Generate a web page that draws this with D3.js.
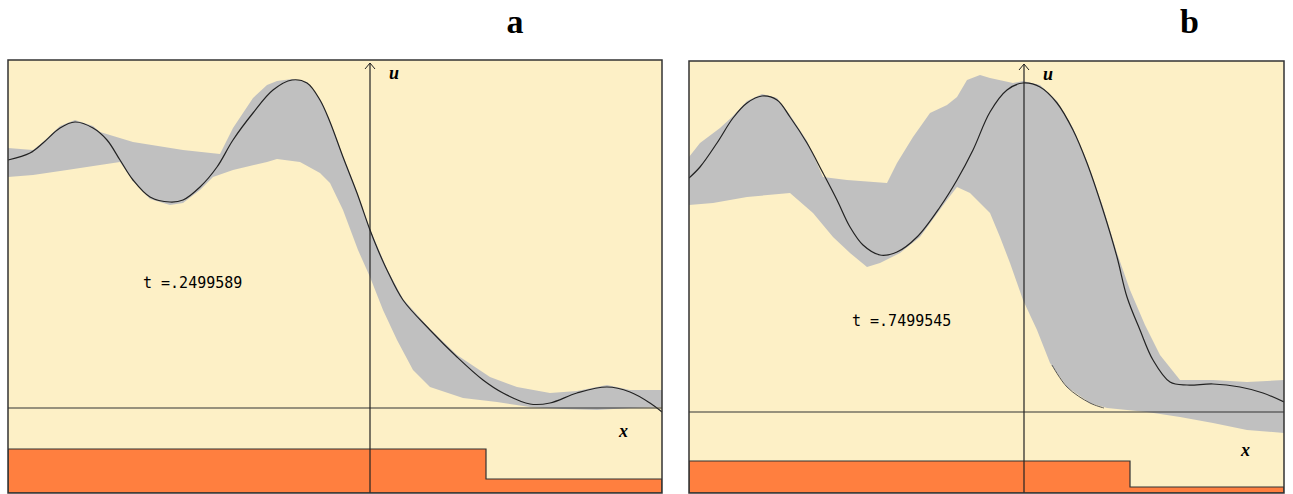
<!DOCTYPE html>
<html lang="en">
<head>
    <meta charset="UTF-8">
    <title>u(x, t)</title>
    <script src="https://d3js.org/d3.v7.min.js"></script>
    <style>
        body { margin: 0; background: #fff; }
    </style>
</head>
<body>

    <script>

        // panel a, t = .2499589  ([x, u] pairs)
        var curveA = [[-3.62, 2.48], [-3.40, 2.55], [-3.27, 2.65], [-3.10, 2.80], [-2.95, 2.86], [-2.77, 2.80],
            [-2.63, 2.68], [-2.50, 2.48], [-2.37, 2.28], [-2.20, 2.11], [-2.00, 2.06], [-1.87, 2.08],
            [-1.70, 2.21], [-1.53, 2.41], [-1.37, 2.68], [-1.17, 2.95], [-0.97, 3.18], [-0.78, 3.28],
            [-0.63, 3.25], [-0.50, 3.08], [-0.40, 2.86], [-0.27, 2.51], [-0.13, 2.15], [0, 1.78],
            [0.08, 1.58], [0.17, 1.38], [0.33, 1.08], [0.60, 0.78], [0.87, 0.51], [1.13, 0.28],
            [1.33, 0.15], [1.60, 0.04], [1.80, 0.05], [2.07, 0.15], [2.37, 0.21], [2.60, 0.16],
            [2.80, 0.05], [2.92, -0.04]];
        var upperA = [[-3.62, 2.60], [-3.37, 2.58], [-3.27, 2.66], [-3.10, 2.82], [-2.95, 2.88], [-2.77, 2.82],
            [-2.70, 2.76], [-2.37, 2.66], [-1.87, 2.58], [-1.50, 2.54], [-1.37, 2.80], [-1.17, 3.10],
            [-1.03, 3.23], [-0.93, 3.27], [-0.78, 3.29], [-0.63, 3.26], [-0.50, 3.09], [-0.40, 2.87],
            [-0.27, 2.52], [-0.13, 2.16], [0, 1.79], [0.17, 1.39], [0.33, 1.09], [0.60, 0.79],
            [0.87, 0.53], [1.20, 0.31], [1.47, 0.21], [1.80, 0.15], [2.07, 0.17], [2.37, 0.23],
            [2.60, 0.18], [2.92, 0.18]];
        var lowerA = [[-3.62, 2.31], [-3.37, 2.33], [-3.03, 2.38], [-2.70, 2.43], [-2.50, 2.46], [-2.37, 2.27],
            [-2.20, 2.09], [-2.00, 2.03], [-1.87, 2.05], [-1.70, 2.18], [-1.57, 2.31], [-1.37, 2.38],
            [-1.03, 2.46], [-0.93, 2.49], [-0.70, 2.46], [-0.50, 2.35], [-0.40, 2.25], [-0.27, 1.98],
            [-0.12, 1.58], [0, 1.31], [0.13, 0.98], [0.27, 0.68], [0.43, 0.38], [0.60, 0.21],
            [0.93, 0.10], [1.27, 0.06], [1.60, 0.01], [1.93, -0.01], [2.27, -0.02], [2.60, 0.00],
            [2.92, 0.01]];
        var edgeA = [];
        var bedA = [[-3.62, -0.41], [1.16, -0.71], [2.92, -0.71]];

        // panel b, t = .7499545
        var curveB = [[-3.35, 2.34], [-3.24, 2.45], [-3.07, 2.69], [-2.91, 2.94], [-2.77, 3.09], [-2.62, 3.16],
            [-2.47, 3.12], [-2.34, 2.95], [-2.17, 2.69], [-2.01, 2.39], [-1.87, 2.12], [-1.74, 1.85],
            [-1.61, 1.67], [-1.44, 1.57], [-1.27, 1.60], [-1.07, 1.75], [-0.84, 2.05], [-0.67, 2.32],
            [-0.51, 2.62], [-0.34, 3.00], [-0.17, 3.22], [-0.01, 3.29], [0.16, 3.25], [0.33, 3.09],
            [0.49, 2.82], [0.63, 2.49], [0.79, 2.02], [0.93, 1.55], [1.03, 1.15], [1.16, 0.82],
            [1.29, 0.52], [1.46, 0.30], [1.63, 0.27], [1.89, 0.28], [2.16, 0.25], [2.39, 0.19],
            [2.60, 0.10]];
        var upperB = [[-3.35, 2.55], [-3.24, 2.69], [-3.04, 2.84], [-2.91, 2.96], [-2.77, 3.11], [-2.62, 3.18],
            [-2.47, 3.14], [-2.34, 2.97], [-2.17, 2.71], [-2.01, 2.35], [-1.77, 2.32], [-1.37, 2.29],
            [-1.27, 2.49], [-1.11, 2.75], [-0.94, 2.99], [-0.77, 3.07], [-0.67, 3.15], [-0.57, 3.32],
            [-0.44, 3.37], [-0.34, 3.34], [-0.11, 3.29], [-0.01, 3.31], [0.16, 3.27], [0.33, 3.11],
            [0.49, 2.84], [0.63, 2.51], [0.79, 2.05], [0.93, 1.59], [1.06, 1.22], [1.21, 0.87],
            [1.36, 0.57], [1.56, 0.32], [1.89, 0.32], [2.23, 0.30], [2.60, 0.32]];
        var lowerB = [[-3.35, 2.07], [-3.11, 2.09], [-2.77, 2.15], [-2.34, 2.19], [-2.11, 1.99], [-1.91, 1.75],
            [-1.74, 1.59], [-1.57, 1.45], [-1.44, 1.49], [-1.24, 1.59], [-1.04, 1.75], [-0.77, 2.12],
            [-0.67, 2.25], [-0.54, 2.19], [-0.34, 1.99], [-0.24, 1.75], [-0.14, 1.49], [-0.01, 1.12],
            [0.13, 0.82], [0.26, 0.49], [0.43, 0.25], [0.66, 0.09], [0.83, 0.04], [1.23, 0.00],
            [1.56, -0.05], [1.89, -0.11], [2.23, -0.18], [2.60, -0.21]];
        // darker trace along the lower edge of the envelope
        var edgeB = [[0.28, 0.47], [0.43, 0.25], [0.66, 0.09], [0.80, 0.04]];
        var bedB = [[-3.35, -0.49], [1.06, -0.75], [2.60, -0.75]];

        var panels = [
            { name: "a", label: "t =.2499589", labelAt: [-2.27, 1.20], curve: curveA, upper: upperA, lower: lowerA, edge: edgeA, bed: bedA,
              xDomain: [-3.62, 2.92], xRange: [8, 662], uDomain: [-0.85, 3.48], uRange: [493, 60], xLabelU: -0.29 },
            { name: "b", label: "t =.7499545", labelAt: [-1.72, 0.86], curve: curveB, upper: upperB, lower: lowerB, edge: edgeB, bed: bedB,
              xDomain: [-3.35, 2.60], xRange: [689, 1284], uDomain: [-0.81, 3.51], uRange: [493, 61], xLabelU: -0.44 }
        ];

        var width = 1293;
        var height = 494;

        var svg = d3.select("body")
            .append("svg")
            .attr("width", width)
            .attr("height", height);

        panels.forEach(function (p, i) {
            var x = d3.scaleLinear().domain(p.xDomain).range(p.xRange);
            var u = d3.scaleLinear().domain(p.uDomain).range(p.uRange);
            var x0 = p.xDomain[0], x1 = p.xDomain[1];
            var u0 = p.uDomain[0], u1 = p.uDomain[1];

            var g = svg.append("g");

            g.append("clipPath")
                .attr("id", "clip" + i)
                .append("rect")
                .attr("x", x(x0)).attr("y", u(u1))
                .attr("width", x(x1) - x(x0)).attr("height", u(u0) - u(u1));

            g.append("rect")
                .attr("x", x(x0)).attr("y", u(u1))
                .attr("width", x(x1) - x(x0)).attr("height", u(u0) - u(u1))
                .attr("fill", "#fdf0c6");

            var plot = g.append("g").attr("clip-path", "url(#clip" + i + ")");

            var line = d3.line()
                .x(function (d) { return x(d[0]); })
                .y(function (d) { return u(d[1]); });

            // gray envelope
            var band = p.upper.concat(p.lower.slice().reverse());
            plot.append("path")
                .attr("d", line(band) + "Z")
                .attr("fill", "#c0c0c0");

            if (p.edge.length) {
                plot.append("path")
                    .attr("d", line.curve(d3.curveCatmullRom)(p.edge))
                    .attr("fill", "none")
                    .attr("stroke", "#555")
                    .attr("stroke-width", 1);
            }

            // solution curve
            plot.append("path")
                .attr("d", line.curve(d3.curveCatmullRom)(p.curve))
                .attr("fill", "none")
                .attr("stroke", "#222")
                .attr("stroke-width", 1.2);

            // bottom step
            var bed = d3.area()
                .curve(d3.curveStepAfter)
                .x(function (d) { return x(d[0]); })
                .y0(u(u0))
                .y1(function (d) { return u(d[1]); });
            plot.append("path")
                .attr("d", bed(p.bed))
                .attr("fill", "#ff7f3f")
                .attr("stroke", "#333")
                .attr("stroke-width", 1.2);

            // axes
            plot.append("line")
                .attr("x1", x(x0)).attr("x2", x(x1))
                .attr("y1", u(0)).attr("y2", u(0))
                .attr("stroke", "#333").attr("stroke-width", 1.2);
            plot.append("line")
                .attr("x1", x(0)).attr("x2", x(0))
                .attr("y1", u(u0)).attr("y2", u(u1) + 3)
                .attr("stroke", "#222").attr("stroke-width", 1.2);
            plot.append("path")
                .attr("d", "M" + (x(0) - 5) + "," + (u(u1) + 9) + "L" + x(0) + "," + (u(u1) + 3) + "L" + (x(0) + 5) + "," + (u(u1) + 9))
                .attr("fill", "none")
                .attr("stroke", "#222");

            g.append("text")
                .attr("x", x(0) + 19).attr("y", u(u1) + 19)
                .attr("font-family", "Liberation Serif")
                .attr("font-style", "italic").attr("font-weight", "bold")
                .attr("font-size", 18)
                .text("u");
            g.append("text")
                .attr("x", x(x1) - 43).attr("y", u(p.xLabelU))
                .attr("font-family", "Liberation Serif")
                .attr("font-style", "italic").attr("font-weight", "bold")
                .attr("font-size", 18)
                .text("x");

            g.append("text")
                .attr("x", x(p.labelAt[0])).attr("y", u(p.labelAt[1]))
                .attr("font-family", "DejaVu Sans Mono")
                .attr("font-size", 15)
                .attr("fill", "#000")
                .text(p.label);

            // frame
            g.append("rect")
                .attr("x", x(x0)).attr("y", u(u1))
                .attr("width", x(x1) - x(x0)).attr("height", u(u0) - u(u1))
                .attr("fill", "none")
                .attr("stroke", "#333")
                .attr("stroke-width", 1.5);

            svg.append("text")
                .attr("x", (x(x0) + x(x1)) / 2 + (i == 0 ? 180 : 203))
                .attr("y", 33)
                .attr("text-anchor", "middle")
                .attr("font-family", "Liberation Serif")
                .attr("font-weight", "bold")
                .attr("font-size", 34)
                .text(p.name);
        });

    </script>

</body>
</html>
